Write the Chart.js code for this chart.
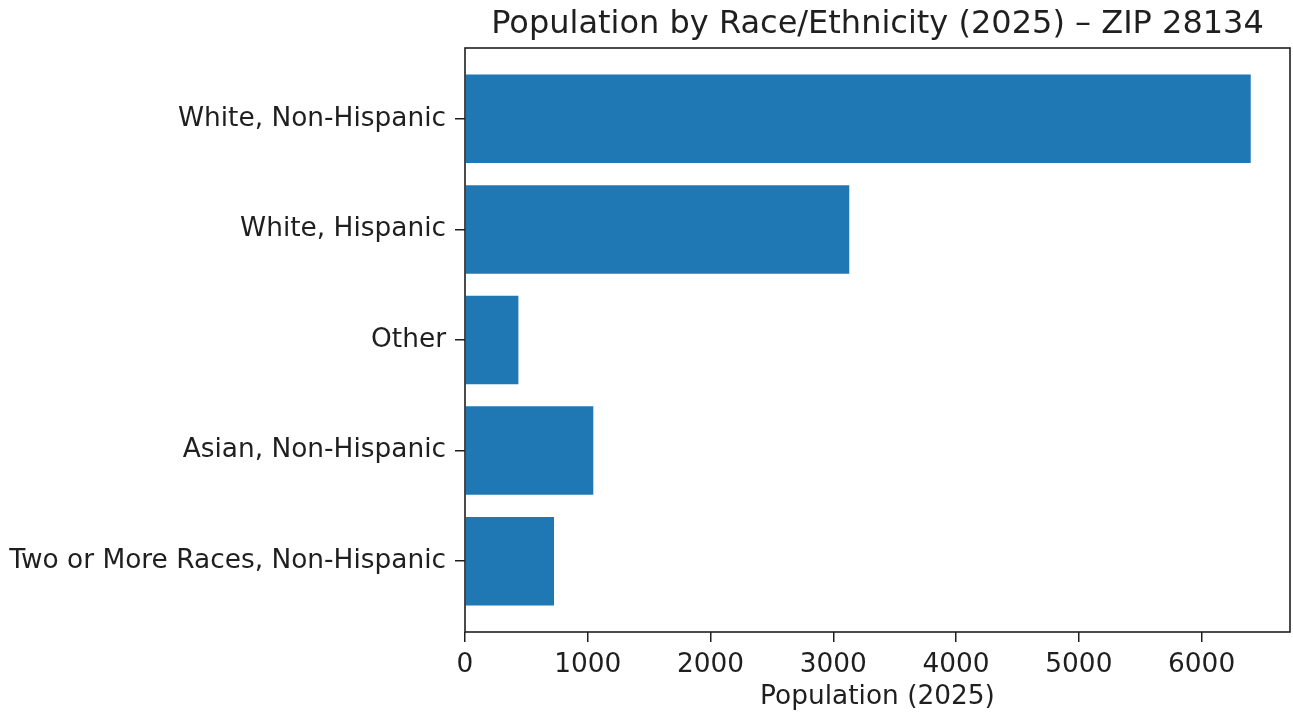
<!DOCTYPE html>
<html>
<head>
<meta charset="utf-8">
<title>Population by Race/Ethnicity (2025) – ZIP 28134</title>
<script src="https://cdn.jsdelivr.net/npm/chart.js@4/dist/chart.umd.min.js"></script>
<style>
  body { margin: 0; background: #fff; }
  canvas { display: block; }
</style>
</head>
<body>
<canvas id="grafico" width="1293" height="717"></canvas>
<script>
const categorias = [
  "White, Non-Hispanic",
  "White, Hispanic",
  "Other",
  "Asian, Non-Hispanic",
  "Two or More Races, Non-Hispanic"
];
const poblacion = [6400, 3130, 435, 1045, 725];
const ticksX = [0, 1000, 2000, 3000, 4000, 5000, 6000];

const colorTexto = "#1f1f1f";
const fuente = "'DejaVu Sans', sans-serif";

// marco completo alrededor del área y título centrado sobre los ejes (estilo matplotlib)
const marco = {
  id: "marco",
  afterLayout(chart) {
    const t = chart.titleBlock;
    if (!t) return;
    t.left = chart.chartArea.left;
    t.right = chart.chartArea.right;
    t.width = t.right - t.left;
  },
  afterDatasetsDraw(chart) {
    const a = chart.chartArea;
    const ctx = chart.ctx;
    ctx.save();
    ctx.strokeStyle = colorTexto;
    ctx.lineWidth = 1.6;
    ctx.strokeRect(a.left, a.top, a.right - a.left, a.bottom - a.top);
    ctx.restore();
  }
};

new Chart(document.getElementById("grafico"), {
  type: "bar",
  data: {
    datasets: [{
      data: poblacion.map((v, i) => ({ x: v, y: i })),
      backgroundColor: "#1f77b4",
      borderWidth: 0,
      barPercentage: 0.8,
      categoryPercentage: 1
    }]
  },
  options: {
    indexAxis: "y",
    responsive: false,
    animation: false,
    layout: { padding: { top: 0, right: 3, bottom: 0, left: 0 } },
    plugins: {
      legend: { display: false },
      tooltip: { enabled: false },
      title: {
        display: true,
        text: "Population by Race/Ethnicity (2025) – ZIP 28134",
        color: colorTexto,
        font: { family: fuente, size: 32, weight: "normal", lineHeight: 1.2 },
        padding: { top: 5, bottom: 4.6 }
      }
    },
    scales: {
      x: {
        type: "linear",
        min: 0,
        max: 6720,
        afterBuildTicks: s => { s.ticks = ticksX.map(v => ({ value: v })); },
        afterFit: s => { s.height = 85; },
        grid: { display: true, drawOnChartArea: false, drawTicks: true, tickLength: 10, color: colorTexto, lineWidth: 1.5 },
        border: { display: false },
        ticks: {
          color: colorTexto,
          font: { family: fuente, size: 26.4 },
          padding: 7,
          maxRotation: 0,
          callback: v => String(v)
        },
        title: {
          display: true,
          text: "Population (2025)",
          color: colorTexto,
          font: { family: fuente, size: 26.4, lineHeight: 1.2 },
          padding: { top: 0, bottom: 4 }
        }
      },
      y: {
        type: "linear",
        min: -0.64,
        max: 4.64,
        reverse: true,
        offset: false,
        afterBuildTicks: s => { s.ticks = categorias.map((_, i) => ({ value: i })); },
        afterFit: s => { s.width = 465; },
        grid: { display: true, offset: false, drawOnChartArea: false, drawTicks: true, tickLength: 10, color: colorTexto, lineWidth: 1.5 },
        border: { display: false },
        ticks: {
          color: colorTexto,
          font: { family: fuente, size: 26.4 },
          padding: 9,
          callback: v => categorias[v]
        }
      }
    }
  },
  plugins: [marco]
});
</script>
</body>
</html>
